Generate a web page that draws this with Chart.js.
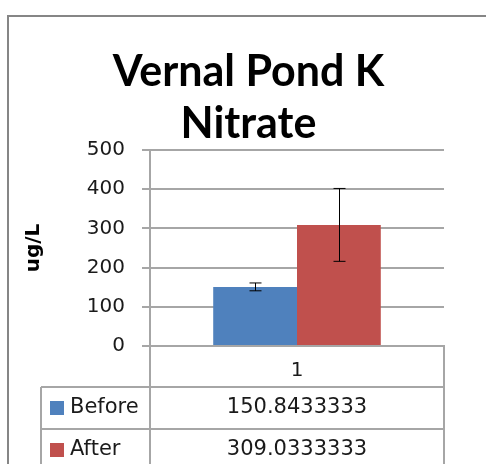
<!DOCTYPE html>
<html>
<head>
<meta charset="utf-8">
<script src="https://cdn.jsdelivr.net/npm/chart.js@4"></script>
<style>
  html, body { margin: 0; padding: 0; background: #fff; overflow: hidden; }
  #wrap { width: 486px; height: 464px; position: relative; }
</style>
</head>
<body>
<div id="wrap"><canvas id="chartArea" width="486" height="464"></canvas></div>
<script>
    // donnees
    const categories = ['1'];
    const seriesNames = ['Before', 'After'];
    const beforeValues = [150.8433333];
    const afterValues = [309.0333333];
    const beforeErrors = [10];
    const afterErrors = [93];
    const yTicks = [0, 100, 200, 300, 400, 500];
    const titleLines = ['Vernal Pond K', 'Nitrate'];
    const yTitle = 'ug/L';

    const barColors = ['#4f81bd', '#c0504d'];
    const gridColor = '#a6a6a6';
    const textColor = '#1a1a1a';

    Chart.defaults.font.family = "'DejaVu Sans', sans-serif";
    Chart.defaults.font.size = 20;
    Chart.defaults.color = textColor;

    // cadre du graphique (bord gauche + haut)
    const frame = {
        id: 'frame',
        beforeDraw(chart) {
            const ctx = chart.ctx;
            ctx.save();
            ctx.strokeStyle = '#868686';
            ctx.lineWidth = 2;
            ctx.beginPath();
            ctx.moveTo(8, chart.height + 5);
            ctx.lineTo(8, 16);
            ctx.lineTo(chart.width + 5, 16);
            ctx.stroke();
            ctx.restore();
        }
    };

    // barres d'erreur
    const errorBars = {
        id: 'errorBars',
        afterDatasetsDraw(chart) {
            const ctx = chart.ctx;
            const y = chart.scales.y;
            ctx.save();
            ctx.strokeStyle = '#000';
            ctx.lineWidth = 1;
            chart.data.datasets.forEach((ds, i) => {
                chart.getDatasetMeta(i).data.forEach((bar, j) => {
                    const v = ds.data[j], e = ds.errors[j];
                    const top = y.getPixelForValue(v + e);
                    const bottom = y.getPixelForValue(v - e);
                    const x = Math.round(bar.x) + 0.5;
                    ctx.beginPath();
                    ctx.moveTo(x, top); ctx.lineTo(x, bottom);
                    ctx.moveTo(x - 6, top); ctx.lineTo(x + 6, top);
                    ctx.moveTo(x - 6, bottom); ctx.lineTo(x + 6, bottom);
                    ctx.stroke();
                });
            });
            ctx.restore();
        }
    };

    // table de donnees sous l'axe
    const dataTable = {
        id: 'dataTable',
        afterDraw(chart) {
            const ctx = chart.ctx;
            const area = chart.chartArea;
            const xs = chart.scales.x;
            const headBottom = xs.bottom;
            const rowH = 42;
            const tableLeft = 41;
            const bottom = chart.height + 5;
            ctx.save();
            ctx.strokeStyle = gridColor;
            ctx.lineWidth = 2;
            ctx.beginPath();
            ctx.moveTo(area.left, area.bottom); ctx.lineTo(area.left, bottom);
            ctx.moveTo(area.right, area.bottom); ctx.lineTo(area.right, bottom);
            ctx.moveTo(tableLeft, headBottom); ctx.lineTo(tableLeft, bottom);
            for (let r = 0; r <= chart.data.datasets.length; r++) {
                ctx.moveTo(tableLeft, headBottom + r * rowH);
                ctx.lineTo(area.right, headBottom + r * rowH);
            }
            ctx.stroke();

            ctx.font = "21px 'DejaVu Sans', sans-serif";
            ctx.textBaseline = 'middle';
            chart.data.datasets.forEach((ds, i) => {
                const cy = headBottom + i * rowH + rowH / 2;
                ctx.fillStyle = ds.backgroundColor;
                ctx.fillRect(50, cy - 7, 14, 14);
                ctx.fillStyle = textColor;
                ctx.textAlign = 'left';
                ctx.fillText(ds.label, 70, cy);
                ctx.textAlign = 'center';
                ds.data.forEach((v, j) => {
                    ctx.fillText(String(v), xs.getPixelForValue(j), cy);
                });
            });
            ctx.restore();
        }
    };

    const canvas = document.getElementById('chartArea');
    new Chart(canvas, {
        type: 'bar',
        data: {
            labels: categories,
            datasets: [
                { label: seriesNames[0], data: beforeValues, errors: beforeErrors, backgroundColor: barColors[0] },
                { label: seriesNames[1], data: afterValues, errors: afterErrors, backgroundColor: barColors[1] }
            ]
        },
        options: {
            responsive: false,
            animation: false,
            layout: { padding: { left: 20, right: 9, top: 0, bottom: 77 } },
            datasets: { bar: { categoryPercentage: 0.57, barPercentage: 1 } },
            plugins: {
                legend: { display: false },
                tooltip: { enabled: false },
                title: {
                    display: true,
                    text: titleLines,
                    color: '#000',
                    font: { family: "Lato, 'DejaVu Sans', sans-serif", size: 43, weight: 'bold', lineHeight: 1.21 },
                    padding: { top: 46, bottom: 0 }
                }
            },
            scales: {
                x: {
                    grid: { display: false },
                    border: { display: true, color: gridColor, width: 2 },
                    ticks: { padding: 5, color: textColor },
                    afterFit: scale => { scale.height = 41; }
                },
                y: {
                    min: 0,
                    max: 500,
                    afterBuildTicks: scale => { scale.ticks = yTicks.map(v => ({ value: v })); },
                    grid: { color: gridColor, lineWidth: 2, tickLength: 8 },
                    border: { display: true, color: gridColor, width: 2 },
                    ticks: { padding: 17, color: textColor },
                    title: {
                        display: true,
                        text: yTitle,
                        color: '#000',
                        font: { size: 20, weight: 'bold' },
                        padding: { top: 2, bottom: 0 }
                    },
                    afterFit: scale => { scale.width = 130; }
                },
                // axe vide a droite pour garder le titre centre sur le cadre
                y2: {
                    position: 'right',
                    grid: { display: false },
                    border: { display: false },
                    ticks: { display: false },
                    afterFit: scale => { scale.width = 33; }
                }
            }
        },
        plugins: [frame, errorBars, dataTable]
    });
</script>
</body>
</html>
